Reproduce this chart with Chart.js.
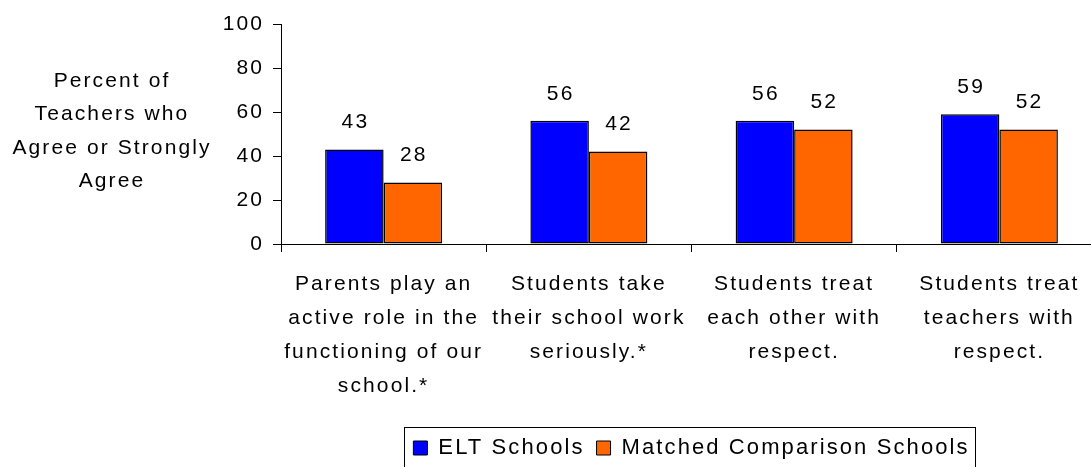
<!DOCTYPE html>
<html>
<head>
<meta charset="utf-8">
<script src="https://cdn.jsdelivr.net/npm/chart.js@4"></script>
<style>
  html, body { margin: 0; padding: 0; background: #fff; overflow: hidden; }
  #wrap { width: 1091px; height: 467px; overflow: hidden; position: relative; }
  canvas { display: block; }
</style>
</head>
<body>
<div id="wrap"><canvas id="c" width="1110" height="469"></canvas></div>
<script>
const categories = [
  ["Parents play an", "active role in the", "functioning of our", "school.*"],
  ["Students take", "their school work", "seriously.*"],
  ["Students treat", "each other with", "respect."],
  ["Students treat", "teachers with", "respect."]
];
const eltSchools = [43, 56, 56, 59];
const comparisonSchools = [28, 42, 52, 52];
const seriesNames = ["ELT Schools", "Matched Comparison Schools"];
const yTicks = [0, 20, 40, 60, 80, 100];
const yTitleLines = ["Percent of", "Teachers who", "Agree or Strongly", "Agree"];

const FONT = "'Liberation Sans', Arial, sans-serif";
const LS = '2.1px';
Chart.defaults.font.family = FONT;
Chart.defaults.font.size = 21;
Chart.defaults.color = '#000';

const spacingPlugin = {
  id: 'spacing',
  beforeInit(chart) { chart.ctx.letterSpacing = LS; },
  beforeLayout(chart) { chart.ctx.letterSpacing = LS; },
  beforeDraw(chart) { chart.ctx.letterSpacing = LS; }
};

const extrasPlugin = {
  id: 'extras',
  afterDatasetsDraw(chart) {
    const ctx = chart.ctx;
    ctx.save();
    ctx.letterSpacing = LS;
    ctx.font = '21px ' + FONT;
    ctx.fillStyle = '#000';
    ctx.textAlign = 'center';
    ctx.textBaseline = 'middle';
    chart.data.datasets.forEach((ds, di) => {
      chart.getDatasetMeta(di).data.forEach((el, i) => {
        ctx.fillText(String(ds.data[i]), el.x + 1, el.y - 27);
      });
    });
    ctx.restore();
  },
  afterDraw(chart) {
    const ctx = chart.ctx;
    ctx.save();
    ctx.letterSpacing = LS;
    ctx.font = '21px ' + FONT;
    ctx.fillStyle = '#000';
    ctx.textAlign = 'center';
    ctx.textBaseline = 'middle';
    yTitleLines.forEach((t, i) => ctx.fillText(t, 112, 81 + i * 33.5));
    // legend frame
    const hb = chart.legend.legendHitBoxes;
    if (hb && hb.length) {
      const first = hb[0], last = hb[hb.length - 1];
      const left = first.left - 9;
      const right = last.left + last.width + 6;
      ctx.strokeStyle = '#000';
      ctx.lineWidth = 1;
      ctx.strokeRect(Math.round(left) + 0.5, 427.5, Math.round(right - left), 60);
    }
    ctx.restore();
  }
};

new Chart(document.getElementById('c'), {
  type: 'bar',
  data: {
    labels: categories,
    datasets: [
      { label: seriesNames[0], data: eltSchools, backgroundColor: '#0000FF', borderColor: '#000', borderWidth: 1.5, borderSkipped: false },
      { label: seriesNames[1], data: comparisonSchools, backgroundColor: '#FF6600', borderColor: '#000', borderWidth: 1.5, borderSkipped: false }
    ]
  },
  options: {
    responsive: false,
    animation: false,
    devicePixelRatio: 1,
    datasets: { bar: { categoryPercentage: 0.57, barPercentage: 1 } },
    layout: { padding: { top: 24, right: 8, left: 0, bottom: 0 } },
    plugins: {
      legend: {
        position: 'bottom',
        fullSize: false,
        labels: { boxWidth: 14, boxHeight: 14, padding: 12, color: '#000', font: { size: 22 },
          generateLabels(chart) {
            return chart.data.datasets.map((ds, i) => ({
              text: ds.label, fillStyle: ds.backgroundColor, strokeStyle: '#000', lineWidth: 1, hidden: false, datasetIndex: i
            }));
          }
        }
      },
      tooltip: { enabled: false },
      title: { display: false }
    },
    scales: {
      x: {
        grid: { offset: true, drawOnChartArea: false, drawTicks: true, tickLength: 8, color: '#000' },
        border: { color: '#000', width: 1 },
        ticks: { maxRotation: 0, minRotation: 0, autoSkip: false, padding: 15, color: '#000',
          font: { size: 21, lineHeight: 34 / 21 } },
        afterFit(s) { s.height = 181; }
      },
      y: {
        min: 0, max: 100,
        afterBuildTicks(s) { s.ticks = yTicks.map(v => ({ value: v })); },
        grid: { drawOnChartArea: false, drawTicks: true, tickLength: 8, color: '#000' },
        border: { color: '#000', width: 1 },
        ticks: { padding: 9, color: '#000', font: { size: 21 } },
        afterFit(s) { s.width = 281; }
      }
    }
  },
  plugins: [spacingPlugin, extrasPlugin]
});
</script>
</body>
</html>
